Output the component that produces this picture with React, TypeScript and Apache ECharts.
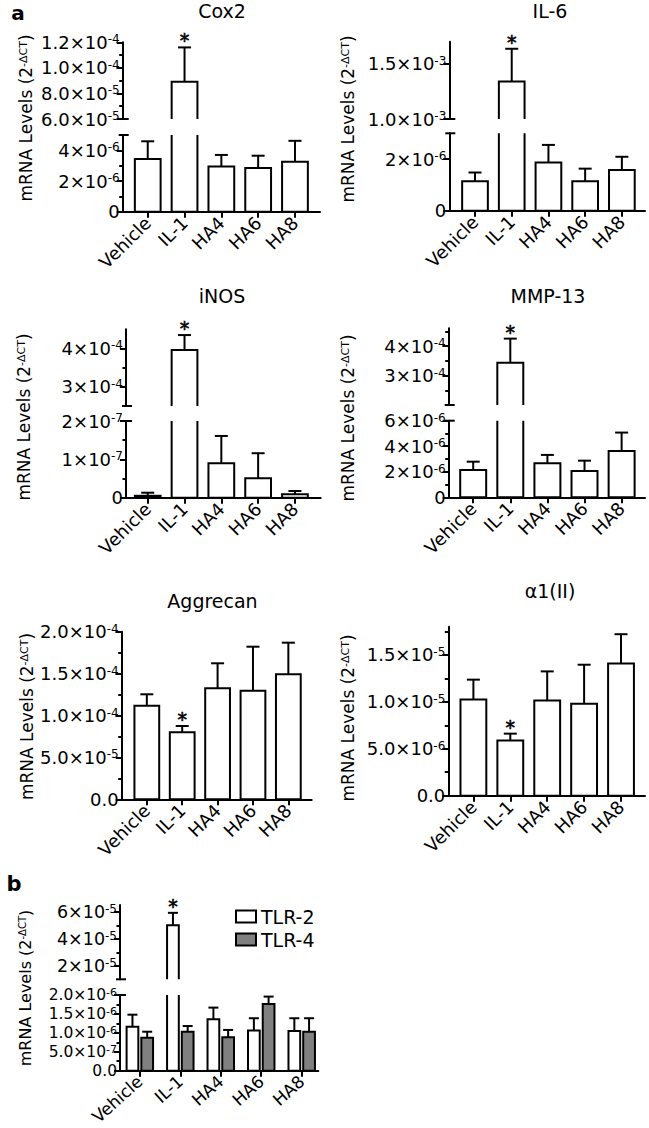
import React, { useEffect, useRef } from "react";
import * as echarts from "echarts";

const FONT = "DejaVu Sans";

// ---------- data ----------
const categories = ["Vehicle", "IL-1", "HA4", "HA6", "HA8"];
const categoryIndex = [0, 1, 2, 3, 4];
const il1Star = [0, 1, 0, 0, 0];
const noStar = [0, 0, 0, 0, 0];

const cox2Mean = [3.44e-6, 8.92e-5, 2.95e-6, 2.85e-6, 3.26e-6];
const cox2Err = [4.59e-6, 1.16e-4, 3.7e-6, 3.65e-6, 4.62e-6];

const il6Mean = [1.14e-6, 1.339e-3, 1.87e-6, 1.14e-6, 1.58e-6];
const il6Err = [1.48e-6, 1.636e-3, 2.55e-6, 1.63e-6, 2.09e-6];

const inosMean = [5e-9, 3.96e-4, 9.0e-8, 5.1e-8, 9e-9];
const inosErr = [1.3e-8, 4.35e-4, 1.61e-7, 1.16e-7, 1.75e-8];

const mmp13Mean = [2.14e-6, 3.43e-4, 2.67e-6, 2.06e-6, 3.63e-6];
const mmp13Err = [2.79e-6, 4.25e-4, 3.32e-6, 2.87e-6, 5.07e-6];

const aggrecanMean = [1.117e-4, 8.0e-5, 1.325e-4, 1.296e-4, 1.492e-4];
const aggrecanErr = [1.253e-4, 8.75e-5, 1.623e-4, 1.821e-4, 1.869e-4];

const col2Mean = [1.024e-5, 5.87e-6, 1.014e-5, 9.79e-6, 1.409e-5];
const col2Err = [1.236e-5, 6.61e-6, 1.324e-5, 1.395e-5, 1.72e-5];

const tlr2Mean = [1.164e-6, 5.0e-5, 1.36e-6, 1.06e-6, 1.05e-6];
const tlr2Err = [1.48e-6, 5.92e-5, 1.667e-6, 1.386e-6, 1.386e-6];
const tlr4Mean = [8.73e-7, 1.03e-6, 8.84e-7, 1.765e-6, 1.03e-6];
const tlr4Err = [1.03e-6, 1.18e-6, 1.077e-6, 1.958e-6, 1.386e-6];

// ---------- axis ranges and ticks ----------
const cox2UpperRange = [6e-5, 1.2e-4];
const cox2UpperTicks = [6e-5, 8e-5, 1e-4, 1.2e-4];
const cox2UpperMinor = [7e-5, 9e-5, 1.1e-4];
const cox2LowerRange = [0, 5e-6];
const cox2LowerTicks = [0, 2e-6, 4e-6];
const cox2LowerMinor = [1e-6, 3e-6];

const il6UpperRange = [1e-3, 1.7e-3];
const il6UpperTicks = [1e-3, 1.5e-3];
const il6UpperMinor: number[] = [];
const il6LowerRange = [0, 3e-6];
const il6LowerTicks = [0, 2e-6];
const il6LowerMinor: number[] = [];

const inosUpperRange = [2.5e-4, 4.5e-4];
const inosUpperTicks = [3e-4, 4e-4];
const inosUpperMinor = [3.5e-4];
const inosLowerRange = [0, 2e-7];
const inosLowerTicks = [0, 1e-7, 2e-7];
const inosLowerMinor = [5e-8, 1.5e-7];

const mmpUpperRange = [2e-4, 4.6e-4];
const mmpUpperTicks = [3e-4, 4e-4];
const mmpUpperMinor = [2.5e-4, 3.5e-4, 4.5e-4];
const mmpLowerRange = [0, 6e-6];
const mmpLowerTicks = [0, 2e-6, 4e-6, 6e-6];
const mmpLowerMinor = [1e-6, 3e-6, 5e-6];

const aggRange = [0, 2e-4];
const aggTicks = [0, 5e-5, 1e-4, 1.5e-4, 2e-4];
const aggMinor = [2.5e-5, 7.5e-5, 1.25e-4, 1.75e-4];

const col2Range = [0, 1.8e-5];
const col2Ticks = [0, 5e-6, 1e-5, 1.5e-5];
const col2Minor = [2.5e-6, 7.5e-6, 1.25e-5, 1.75e-5];

const tlrUpperRange = [1e-5, 6.5e-5];
const tlrUpperTicks = [2e-5, 4e-5, 6e-5];
const tlrUpperMinor = [3e-5, 5e-5];
const tlrLowerRange = [0, 2e-6];
const tlrLowerTicks = [0, 5e-7, 1e-6, 1.5e-6, 2e-6];
const tlrLowerMinor = [2.5e-7, 7.5e-7, 1.25e-6, 1.75e-6];

// ---------- helpers ----------
function sci(v: number, dec: number, zero: string) {
  if (Math.abs(v) < 1e-30) return zero;
  const exp = Math.floor(Math.log10(v) + 1e-9);
  const mant = v / Math.pow(10, exp);
  return `${mant.toFixed(dec)}×10{e|${exp}}`;
}

function tickRich(fs: number) {
  return {
    e: { fontSize: Math.round(fs * 0.68), fontFamily: FONT, color: "#000", verticalAlign: "top" },
  };
}

interface SegDef {
  range: number[];
  ticks: number[];
  minor: number[];
  top: number;
  bottom: number;
  dec: number;
  zero: string;
  fs: number;
}
interface SeriesDef {
  name: string;
  mean: number[];
  err: number[];
  star: number[];
  fill: string;
  offset: number;
}
interface PanelDef {
  title: string;
  titlePos: number[];
  namePos: number[];
  left: number;
  right: number;
  xRange: number[];
  segs: SegDef[];
  series: SeriesDef[];
  barFrac: number;
  capPx: number;
  xFont: number;
  rotate: number;
  nameFont: number;
}

function makeRenderer(range: number[], barFrac: number, offset: number, capPx: number, fill: string) {
  const lo = range[0];
  const hi = range[1];
  return (params: any, api: any) => {
    const x = api.value(0);
    const v = api.value(1);
    const e = api.value(2);
    const star = api.value(3);
    if (!(v > lo)) return { type: "group", children: [] };
    const cs = params.coordSys;
    const unit = api.size([1, 0])[0];
    const w = unit * barFrac;
    const cx = api.coord([x, lo])[0] + offset * unit;
    const gTop = cs.y;
    const gBot = cs.y + cs.height;
    const topClip = v > hi;
    const botClip = lo > 0;
    const top = topClip ? gTop : api.coord([x, v])[1];
    const bot = botClip ? gBot : api.coord([x, 0])[1];
    const l = cx - w / 2;
    const r = cx + w / 2;
    const line = { stroke: "#000", lineWidth: 2, fill: "none" };
    const children: any[] = [
      { type: "rect", shape: { x: l, y: top, width: w, height: bot - top }, style: { fill, stroke: "none" } },
    ];
    if (!topClip && !botClip) {
      children.push({ type: "rect", shape: { x: l, y: top, width: w, height: bot - top }, style: line });
    } else if (!topClip) {
      children.push({ type: "polyline", shape: { points: [[l, bot], [l, top], [r, top], [r, bot]] }, style: line });
    } else if (!botClip) {
      children.push({ type: "polyline", shape: { points: [[l, top], [l, bot], [r, bot], [r, top]] }, style: line });
    } else {
      children.push({ type: "line", shape: { x1: l, y1: top, x2: l, y2: bot }, style: line });
      children.push({ type: "line", shape: { x1: r, y1: top, x2: r, y2: bot }, style: line });
    }
    if (!topClip) {
      let mark = top;
      if (e > v) {
        const ey = api.coord([x, e])[1];
        children.push({ type: "line", shape: { x1: cx, y1: top, x2: cx, y2: ey }, style: line });
        children.push({ type: "line", shape: { x1: cx - capPx / 2, y1: ey, x2: cx + capPx / 2, y2: ey }, style: line });
        mark = ey;
      }
      if (star) {
        children.push({
          type: "text",
          x: cx,
          y: mark - 7,
          style: {
            text: "*",
            fontSize: 19,
            fontFamily: FONT,
            fill: "#000000",
            stroke: "#000000",
            lineWidth: 0.6,
            align: "center",
            verticalAlign: "middle",
            textAlign: "center",
            textVerticalAlign: "middle",
          },
        });
      }
    }
    return { type: "group", children };
  };
}

const A_FS = 18;

const panels: PanelDef[] = [
  {
    title: "Cox2",
    titlePos: [222, 11],
    namePos: [26, 118],
    left: 122.7,
    right: 320,
    xRange: [-0.68, 4.68],
    segs: [
      { range: cox2UpperRange, ticks: cox2UpperTicks, minor: cox2UpperMinor, top: 42.3, bottom: 119, dec: 1, zero: "0", fs: A_FS },
      { range: cox2LowerRange, ticks: cox2LowerTicks, minor: cox2LowerMinor, top: 135, bottom: 211.7, dec: 0, zero: "0", fs: A_FS },
    ],
    series: [{ name: "Cox2", mean: cox2Mean, err: cox2Err, star: il1Star, fill: "#ffffff", offset: 0 }],
    barFrac: 0.7,
    capPx: 13,
    xFont: 18,
    rotate: 45,
    nameFont: 17,
  },
  {
    title: "IL-6",
    titlePos: [550, 11],
    namePos: [348, 119],
    left: 449.3,
    right: 645,
    xRange: [-0.7, 4.63],
    segs: [
      { range: il6UpperRange, ticks: il6UpperTicks, minor: il6UpperMinor, top: 41.7, bottom: 119, dec: 1, zero: "0", fs: A_FS },
      { range: il6LowerRange, ticks: il6LowerTicks, minor: il6LowerMinor, top: 133.3, bottom: 210.7, dec: 0, zero: "0", fs: A_FS },
    ],
    series: [{ name: "IL-6", mean: il6Mean, err: il6Err, star: il1Star, fill: "#ffffff", offset: 0 }],
    barFrac: 0.7,
    capPx: 13,
    xFont: 18,
    rotate: 45,
    nameFont: 17,
  },
  {
    title: "iNOS",
    titlePos: [222, 296],
    namePos: [24, 417],
    left: 126,
    right: 320.7,
    xRange: [-0.59, 4.7],
    segs: [
      { range: inosUpperRange, ticks: inosUpperTicks, minor: inosUpperMinor, top: 329.3, bottom: 406, dec: 0, zero: "0", fs: A_FS },
      { range: inosLowerRange, ticks: inosLowerTicks, minor: inosLowerMinor, top: 421, bottom: 497.7, dec: 0, zero: "0", fs: A_FS },
    ],
    series: [{ name: "iNOS", mean: inosMean, err: inosErr, star: il1Star, fill: "#ffffff", offset: 0 }],
    barFrac: 0.7,
    capPx: 13,
    xFont: 18,
    rotate: 45,
    nameFont: 17,
  },
  {
    title: "MMP-13",
    titlePos: [548, 296],
    namePos: [348, 418],
    left: 448.7,
    right: 645,
    xRange: [-0.66, 4.63],
    segs: [
      { range: mmpUpperRange, ticks: mmpUpperTicks, minor: mmpUpperMinor, top: 328.3, bottom: 405, dec: 0, zero: "0", fs: A_FS },
      { range: mmpLowerRange, ticks: mmpLowerTicks, minor: mmpLowerMinor, top: 420.7, bottom: 497.3, dec: 0, zero: "0", fs: A_FS },
    ],
    series: [{ name: "MMP-13", mean: mmp13Mean, err: mmp13Err, star: il1Star, fill: "#ffffff", offset: 0 }],
    barFrac: 0.7,
    capPx: 13,
    xFont: 18,
    rotate: 45,
    nameFont: 17,
  },
  {
    title: "Aggrecan",
    titlePos: [212.5, 601],
    namePos: [27, 716.5],
    left: 121.7,
    right: 311.7,
    xRange: [-0.71, 4.66],
    segs: [{ range: aggRange, ticks: aggTicks, minor: aggMinor, top: 631.7, bottom: 799.3, dec: 1, zero: "0.0", fs: A_FS }],
    series: [{ name: "Aggrecan", mean: aggrecanMean, err: aggrecanErr, star: il1Star, fill: "#ffffff", offset: 0 }],
    barFrac: 0.7,
    capPx: 13,
    xFont: 18,
    rotate: 45,
    nameFont: 17,
  },
  {
    title: "α1(II)",
    titlePos: [550, 591],
    namePos: [348, 718],
    left: 448.3,
    right: 645,
    xRange: [-0.68, 4.65],
    segs: [{ range: col2Range, ticks: col2Ticks, minor: col2Minor, top: 626.7, bottom: 795.7, dec: 1, zero: "0.0", fs: A_FS }],
    series: [{ name: "α1(II)", mean: col2Mean, err: col2Err, star: il1Star, fill: "#ffffff", offset: 0 }],
    barFrac: 0.7,
    capPx: 13,
    xFont: 18,
    rotate: 45,
    nameFont: 17,
  },
  {
    title: "",
    titlePos: [0, 0],
    namePos: [25, 988],
    left: 120,
    right: 318.3,
    xRange: [-0.49, 4.41],
    segs: [
      { range: tlrUpperRange, ticks: tlrUpperTicks, minor: tlrUpperMinor, top: 905, bottom: 979.3, dec: 0, zero: "0", fs: 17.5 },
      { range: tlrLowerRange, ticks: tlrLowerTicks, minor: tlrLowerMinor, top: 995, bottom: 1070.7, dec: 1, zero: "0.0", fs: 15.5 },
    ],
    series: [
      { name: "TLR-2", mean: tlr2Mean, err: tlr2Err, star: il1Star, fill: "#ffffff", offset: -0.182 },
      { name: "TLR-4", mean: tlr4Mean, err: tlr4Err, star: noStar, fill: "#808080", offset: 0.182 },
    ],
    barFrac: 0.29,
    capPx: 10,
    xFont: 17,
    rotate: 42,
    nameFont: 16,
  },
];

function buildOption() {
  const grids: any[] = [];
  const xAxes: any[] = [];
  const yAxes: any[] = [];
  const series: any[] = [];
  const graphics: any[] = [];

  panels.forEach((p) => {
    p.segs.forEach((s, si) => {
      const g = grids.length;
      const isBottom = si === p.segs.length - 1;
      grids.push({ left: p.left, top: s.top, width: p.right - p.left, height: s.bottom - s.top });
      xAxes.push({
        type: "value",
        gridIndex: g,
        min: p.xRange[0],
        max: p.xRange[1],
        show: isBottom,
        position: "bottom",
        axisLine: { show: true, onZero: false, lineStyle: { color: "#000", width: 2 } },
        axisTick: { show: true, length: 6, customValues: categoryIndex, lineStyle: { color: "#000", width: 2 } },
        axisLabel: {
          show: true,
          customValues: categoryIndex,
          formatter: (v: number) => categories[Math.round(v)],
          rotate: p.rotate,
          fontSize: p.xFont,
          fontFamily: FONT,
          color: "#000",
          margin: 8,
        },
        splitLine: { show: false },
      });
      const yi = yAxes.length;
      yAxes.push({
        type: "value",
        gridIndex: g,
        min: s.range[0],
        max: s.range[1],
        position: "left",
        axisLine: { show: true, onZero: false, lineStyle: { color: "#000", width: 2 } },
        axisTick: { show: true, length: 6, customValues: s.ticks, lineStyle: { color: "#000", width: 2 } },
        axisLabel: {
          show: true,
          customValues: s.ticks,
          margin: 3,
          fontSize: s.fs,
          fontFamily: FONT,
          color: "#000",
          formatter: (v: number) => sci(v, s.dec, s.zero),
          rich: tickRich(s.fs),
        },
        splitLine: { show: false },
      });
      yAxes.push({
        type: "value",
        gridIndex: g,
        min: s.range[0],
        max: s.range[1],
        position: "left",
        axisLine: { show: false, onZero: false },
        axisTick: {
          show: s.minor.length > 0,
          length: 3.5,
          customValues: s.minor.length > 0 ? s.minor : undefined,
          lineStyle: { color: "#000", width: 2 },
        },
        axisLabel: { show: false },
        splitLine: { show: false },
      });
      p.series.forEach((sd) => {
        series.push({
          type: "custom",
          name: sd.name,
          xAxisIndex: g,
          yAxisIndex: yi,
          silent: true,
          z: 3,
          encode: { x: 0, y: 1 },
          itemStyle: { color: "#000000" },
          data: sd.mean.map((m, i) => [categoryIndex[i], m, sd.err[i], sd.star[i]]),
          renderItem: makeRenderer(s.range, p.barFrac, sd.offset, p.capPx, sd.fill),
        });
      });
      if (p.segs.length > 1) {
        const y = si === 0 ? s.bottom : s.top;
        graphics.push({
          type: "line",
          z: 10,
          shape: { x1: p.left - 4, y1: y, x2: p.left + 6, y2: y },
          style: { stroke: "#000", lineWidth: 2 },
        });
      }
    });

    if (p.title) {
      graphics.push({
        type: "text",
        x: p.titlePos[0],
        y: p.titlePos[1],
        style: {
          text: p.title,
          fontSize: 19,
          fontFamily: FONT,
          fill: "#000",
          align: "center",
          verticalAlign: "middle",
          textAlign: "center",
          textVerticalAlign: "middle",
        },
      });
    }
    graphics.push({
      type: "text",
      x: p.namePos[0],
      y: p.namePos[1],
      rotation: Math.PI / 2,
      style: {
        text: "mRNA Levels (2{e|-ΔCT})",
        fontSize: p.nameFont,
        fontFamily: FONT,
        fill: "#000",
        align: "center",
        verticalAlign: "middle",
        textAlign: "center",
        textVerticalAlign: "middle",
        rich: {
          e: { fontSize: Math.round(p.nameFont * 0.62), fontFamily: FONT, fill: "#000", verticalAlign: "top" },
        },
      },
    });
  });

  graphics.push({
    type: "text",
    x: 18,
    y: 13,
    style: { text: "a", fontSize: 20, lineHeight: 20, fontWeight: "bold", fontFamily: FONT, fill: "#000", align: "center", verticalAlign: "middle", textAlign: "center", textVerticalAlign: "middle" },
  });
  graphics.push({
    type: "text",
    x: 14,
    y: 884,
    style: { text: "b", fontSize: 21, fontWeight: "bold", fontFamily: FONT, fill: "#000", align: "center", verticalAlign: "middle", textAlign: "center", textVerticalAlign: "middle" },
  });

  return {
    animation: false,
    backgroundColor: "#ffffff",
    textStyle: { fontFamily: FONT, color: "#000" },
    grid: grids,
    xAxis: xAxes,
    yAxis: yAxes,
    series,
    graphic: graphics,
    legend: {
      show: true,
      orient: "vertical",
      left: 230,
      top: 902,
      itemWidth: 20,
      itemHeight: 12,
      itemGap: 4,
      selectedMode: false,
      textStyle: { fontSize: 19, fontFamily: FONT, color: "#000" },
      data: [
        { name: "TLR-2", icon: "rect", itemStyle: { color: "#ffffff", borderColor: "#000", borderWidth: 2 } },
        { name: "TLR-4", icon: "rect", itemStyle: { color: "#808080", borderColor: "#000", borderWidth: 2 } },
      ],
    },
  };
}

export default function App() {
  const ref = useRef<HTMLDivElement>(null);
  useEffect(() => {
    document.body.style.margin = "0";
    const chart = echarts.init(ref.current as HTMLDivElement, null, { renderer: "svg" });
    chart.setOption(buildOption() as any);
    return () => {
      chart.dispose();
    };
  }, []);
  return <div ref={ref} style={{ width: 649, height: 1128 }} />;
}
